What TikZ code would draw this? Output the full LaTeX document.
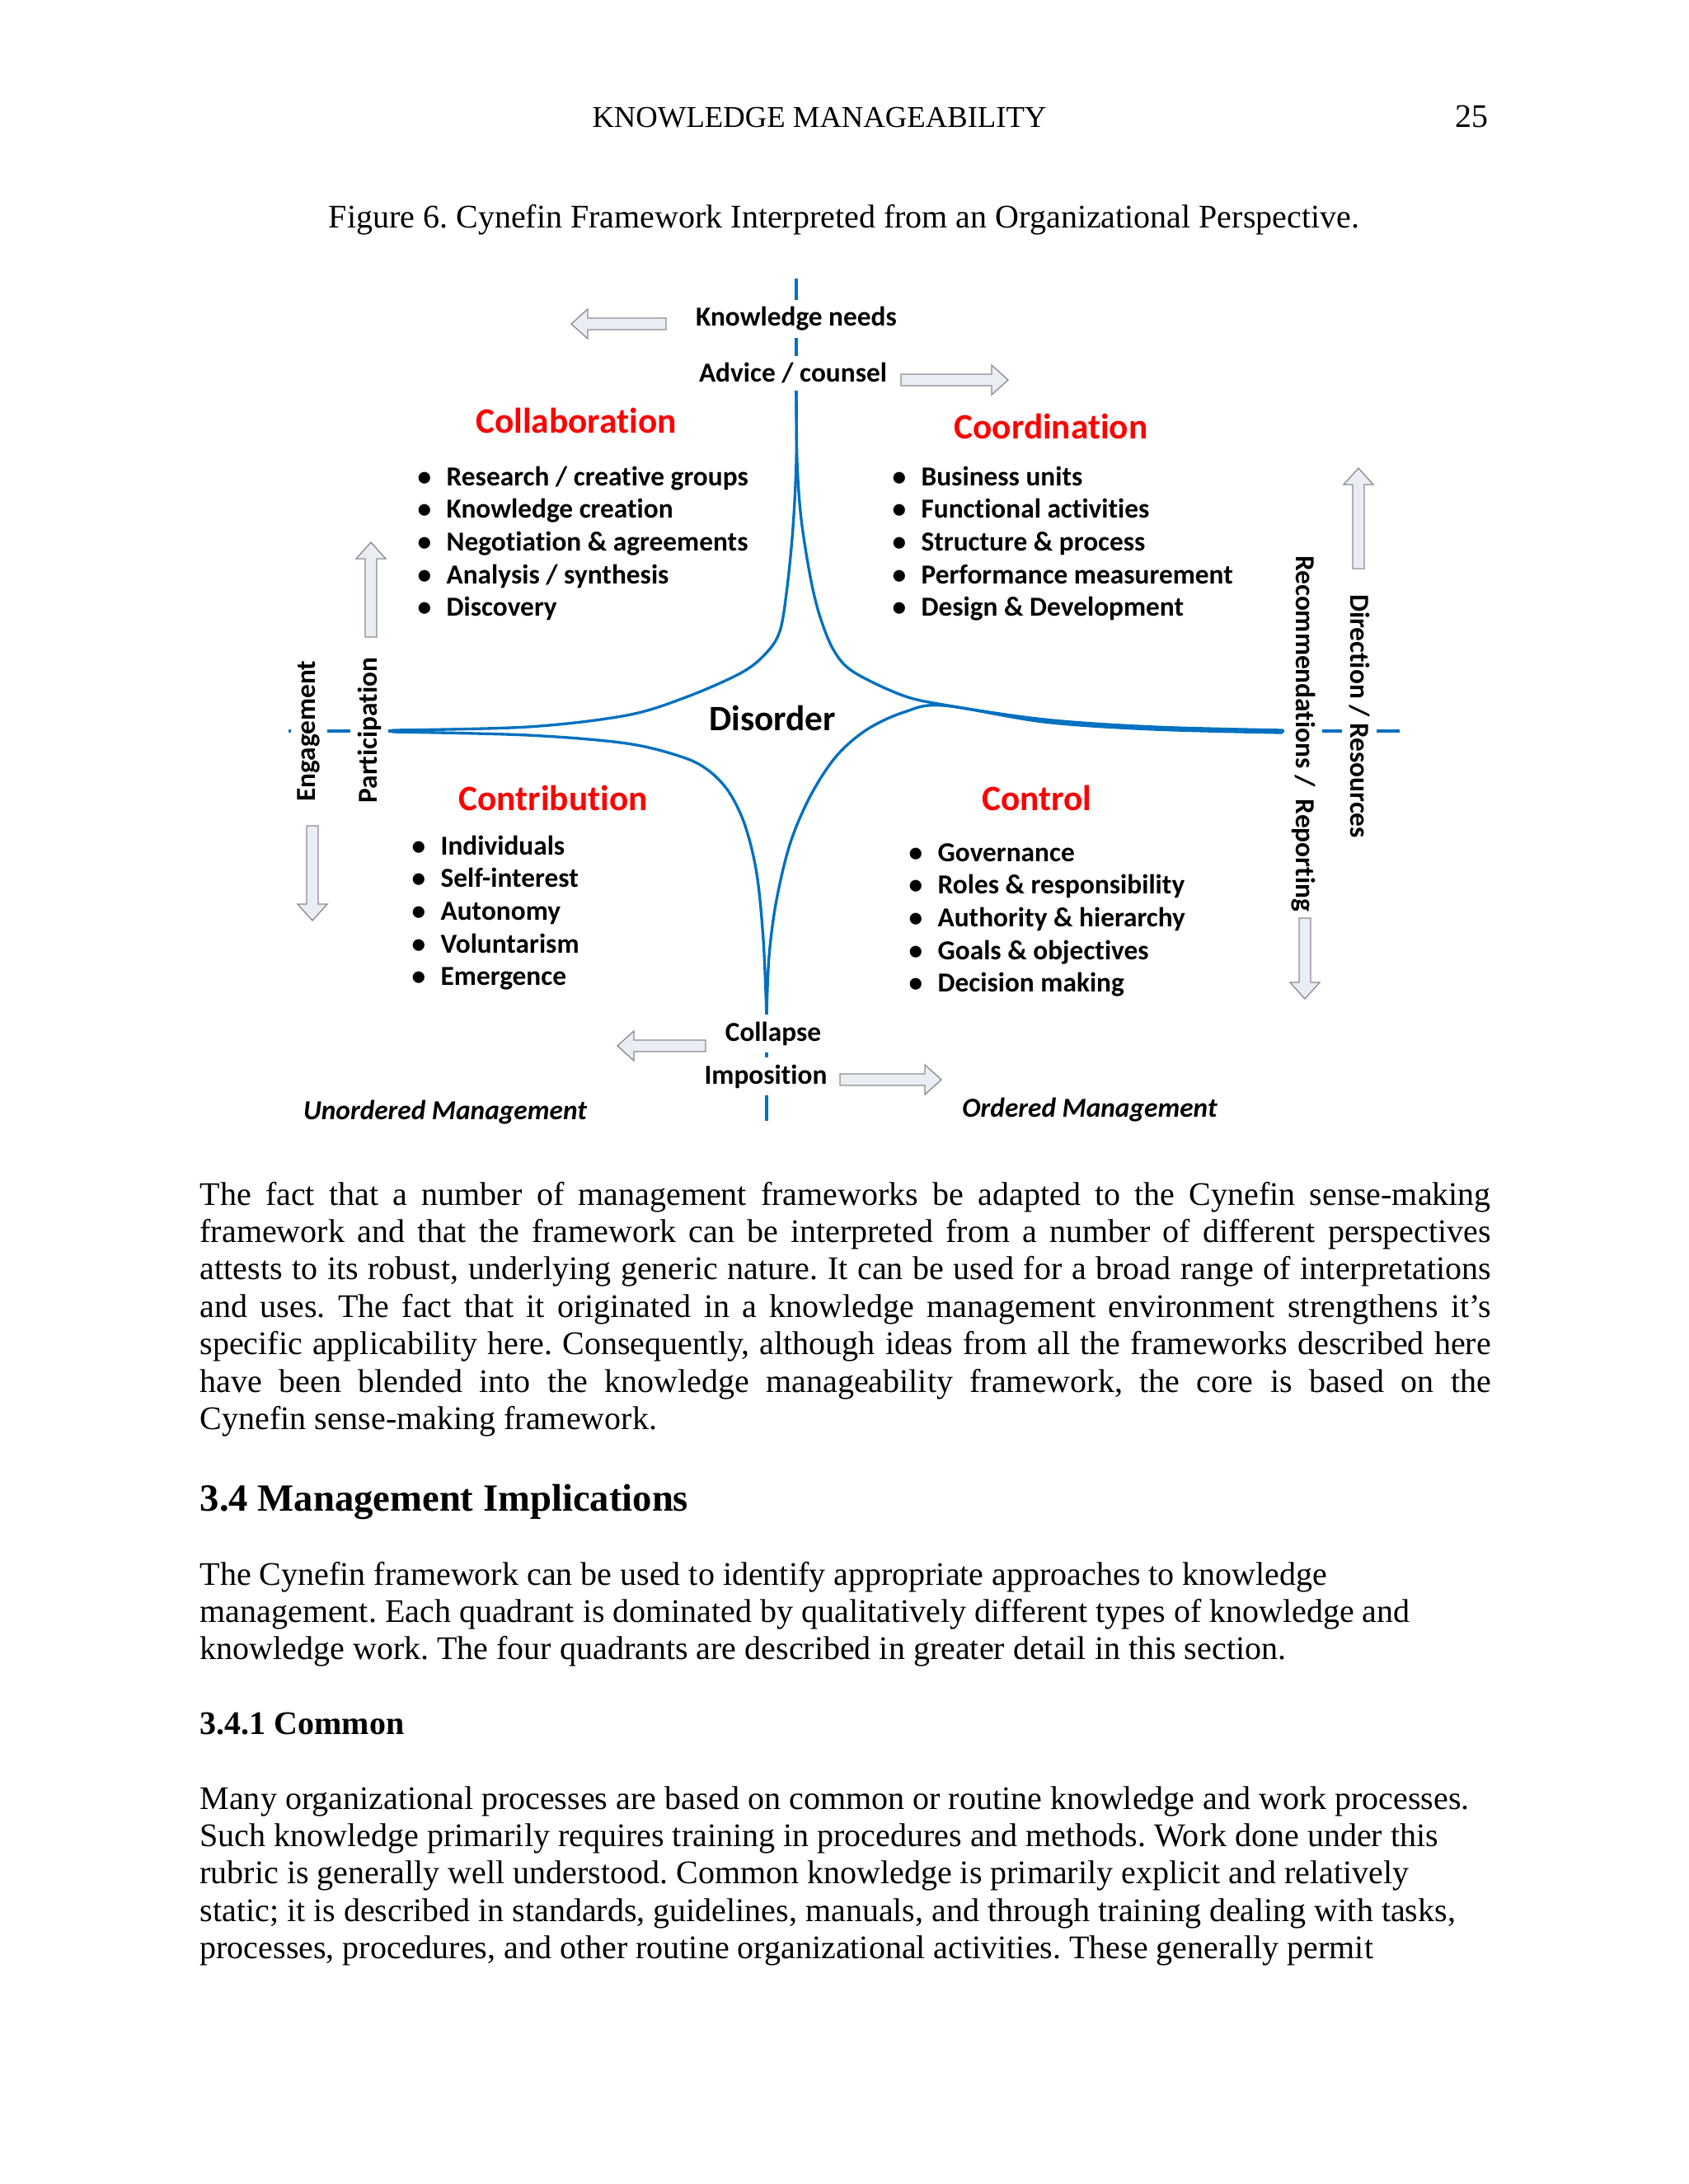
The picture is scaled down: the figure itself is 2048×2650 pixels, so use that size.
\documentclass[tikz,border=0pt]{standalone}
\usepackage{fontspec}
\setmainfont{Liberation Serif}[Ligatures=NoCommon]
\newfontfamily\calib{Carlito}[Ligatures=NoCommon]
\definecolor{cynblue}{HTML}{0070C0}
\definecolor{arrowfill}{HTML}{E9EDF4}
\definecolor{arrowedge}{HTML}{8C8C8C}
\frenchspacing

% block arrow, drawn from its tail at the origin, #1 = length
\tikzset{
  pics/barrow/.style={code={
    \filldraw[fill=arrowfill, draw=arrowedge, line width=0.4pt]
      (0,-7) -- ({#1-20},-7) -- ({#1-20},-18) -- (#1,0) -- ({#1-20},18) -- ({#1-20},7) -- (0,7) -- cycle;
  }}
}

\begin{document}
\begin{tikzpicture}[
  x=0.10542mm, y=-0.10542mm,
  lab/.style={font=\calib\bfseries\fontsize{10}{12}\selectfont, inner sep=2.5pt},
  axislab/.style={lab, fill=white},
  quad/.style={font=\calib\bfseries\fontsize{13}{15}\selectfont, text=red, inner sep=0pt},
  item/.style={font=\calib\bfseries\fontsize{10}{12}\selectfont, anchor=base west, inner sep=0pt},
  mgmt/.style={font=\calib\bfseries\itshape\fontsize{10}{12}\selectfont, inner sep=0pt},
  axis/.style={cynblue, line width=1pt},
  cusp/.style={cynblue, line width=1pt},
  body/.style={font=\fontsize{12}{13.63}\selectfont, inner sep=0pt, anchor=base west}
]
\useasboundingbox (0,0) rectangle (2048,2650);

% --- Page head and caption ---------------------------------------------------
\node[anchor=base, inner sep=0pt, font=\fontsize{11}{13}\selectfont] (runhead) at (994,154) {KNOWLEDGE MANAGEABILITY};
\node[anchor=base east, inner sep=0pt, font=\fontsize{12}{14}\selectfont] (pageno) at (1806,154) {25};
\node[body, anchor=base] (caption) at (1024,276) {Figure 6. Cynefin Framework Interpreted from an Organizational Perspective.};

% --- Axes (labels sit on them with a white ground) ---------------------------
\coordinate (ntop) at (966,338);
\coordinate (ncusp) at (966,480);
\coordinate (scusp) at (930,1200);
\coordinate (sbot) at (930,1360);
\coordinate (wend) at (350,887);
\coordinate (wcusp) at (476,887);
\coordinate (ecusp) at (1556,887);
\coordinate (eend) at (1698,887);

\draw[axis] (ntop) -- (ncusp);
\draw[axis] (scusp) -- (sbot);
\draw[axis] (wend) -- (wcusp);
\draw[axis] (ecusp) -- (eend);

% --- Cusp curves round Disorder -----------------------------------------------
\draw[cusp] plot[smooth, tension=0.55] coordinates {(476,886) (640,882) (760,868) (832,846) (898,817) (928,794) (946,766) (955,712) (962,640) (966,560) (966,480)};
\draw[cusp] plot[smooth, tension=0.55] coordinates {(966,480) (967,560) (972,630) (984,705) (996,752) (1012,790) (1035,815) (1093,843) (1144,855) (1267,873) (1400,882) (1556,886)};
\draw[cusp] plot[smooth, tension=0.55] coordinates {(476,888) (640,892) (760,902) (829,919) (861,936) (885,962) (904,1002) (918,1060) (926,1140) (930,1232)};
\draw[cusp] plot[smooth, tension=0.55] coordinates {(930,1232) (933,1160) (942,1092) (959,1022) (984,964) (1015,917) (1052,885) (1097,864) (1144,856) (1267,876) (1400,885) (1556,889)};

% --- Axis labels -------------------------------------------------------------
\node[axislab] (kneeds) at (966,387) {Knowledge needs};
\node[axislab] (advice) at (962,453) {Advice / counsel};
\node[axislab] (collapse) at (938,1254) {Collapse};
\node[axislab] (imposition) at (929,1306) {Imposition};
\node[axislab, rotate=90] (engage) at (375,887) {Engagement};
\node[axislab, rotate=90] (particip) at (448,886) {Participation};
\node[axislab, rotate=-90] (recomm) at (1581,890) {Recommendations /~ Reporting};
\node[axislab, rotate=-90] (direct) at (1649,869) {Direction / Resources};

% --- Block arrows ------------------------------------------------------------
\pic[rotate=180] (arrkn) at (808,393) {barrow=115};
\pic (arradv) at (1093,461) {barrow=130};
\pic[rotate=180] (arrcol) at (856,1269) {barrow=107};
\pic (arrimp) at (1019,1310) {barrow=123};
\pic[rotate=90] (arrpar) at (450,773) {barrow=115};
\pic[rotate=-90] (arreng) at (379,1002) {barrow=115};
\pic[rotate=90] (arrdir) at (1648,690) {barrow=122};
\pic[rotate=-90] (arrrec) at (1583,1114) {barrow=98};

% --- Quadrants -----------------------------------------------------------------
\node[lab, font=\calib\bfseries\fontsize{13}{15}\selectfont, inner sep=0pt] (disorder) at (937,871) {Disorder};
\node[quad] (collab) at (699,510) {Collaboration};
\node[quad] (coord) at (1275,517) {Coordination};
\node[quad] (contrib) at (671,968) {Contribution};
\node[quad] (control) at (1258,968) {Control};

\foreach \txt [count=\i from 0] in {Research / creative groups, Knowledge creation, Negotiation \& agreements, Analysis / synthesis, Discovery}
  \node[item] (collab-\i) at (541,{589+39.7*\i}) {\llap{\textbullet\hspace{5.5pt}}\txt};
\foreach \txt [count=\i from 0] in {Business units, Functional activities, Structure \& process, Performance measurement, Design \& Development}
  \node[item] (coord-\i) at (1117,{589+39.7*\i}) {\llap{\textbullet\hspace{5.5pt}}\txt};
\foreach \txt [count=\i from 0] in {Individuals, Self-interest, Autonomy, Voluntarism, Emergence}
  \node[item] (contrib-\i) at (534,{1037+39.7*\i}) {\llap{\textbullet\hspace{5.5pt}}\txt};
\foreach \txt [count=\i from 0] in {Governance, Roles \& responsibility, Authority \& hierarchy, Goals \& objectives, Decision making}
  \node[item] (control-\i) at (1137,{1045+39.7*\i}) {\llap{\textbullet\hspace{5.5pt}}\txt};

\node[mgmt] (unordered) at (540,1350) {Unordered Management};
\node[mgmt] (ordered) at (1322,1347) {Ordered Management};

% --- Body text -------------------------------------------------------------------
\node[body, text width=6.5in, align=justify] (para1) at (242,1462) {The fact that a number of management frameworks be adapted to the Cynefin sense-making\linebreak framework and that the framework can be interpreted from a number of different perspectives\linebreak attests to its robust, underlying generic nature. It can be used for a broad range of interpretations\linebreak and uses. The fact that it originated in a knowledge management environment strengthens it's\linebreak specific applicability here. Consequently, although ideas from all the frameworks described here\linebreak have been blended into the knowledge manageability framework, the core is based on the\linebreak Cynefin sense-making framework.};
\node[body, font=\bfseries\fontsize{14}{16}\selectfont] (sec34) at (242,1833) {3.4 Management Implications};
\node[body, text width=6.5in, align=flush left] (para2) at (242,1923) {The Cynefin framework can be used to identify appropriate approaches to knowledge\\management. Each quadrant is dominated by qualitatively different types of knowledge and\\knowledge work. The four quadrants are described in greater detail in this section.};
\node[body, font=\bfseries\fontsize{12}{14}\selectfont] (sec341) at (242,2104) {3.4.1 Common};
\node[body, text width=6.5in, align=flush left] (para3) at (242,2195) {Many organizational processes are based on common or routine knowledge and work processes.\\Such knowledge primarily requires training in procedures and methods. Work done under this\\rubric is generally well understood. Common knowledge is primarily explicit and relatively\\static; it is described in standards, guidelines, manuals, and through training dealing with tasks,\\processes, procedures, and other routine organizational activities. These generally permit};

\end{tikzpicture}
\end{document}
